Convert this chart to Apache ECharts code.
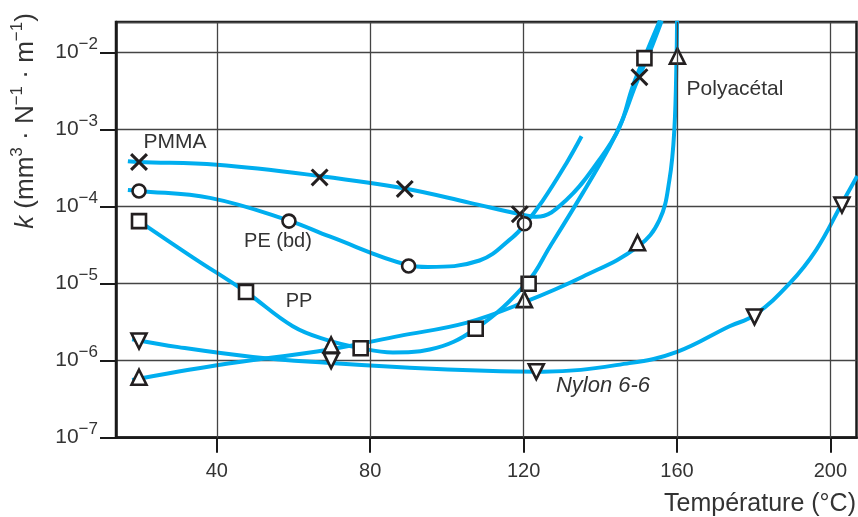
<!DOCTYPE html>
<html>
<head>
<meta charset="utf-8">
<script src="https://cdn.jsdelivr.net/npm/echarts@6/dist/echarts.min.js"></script>
<style>html,body{margin:0;padding:0;background:#fff;}#c{width:858px;height:517px;}</style>
</head>
<body>
<div id="c"></div>
<script>
// ---- data (x: °C, y: k in mm3·N-1·m-1) ----
const xTicks = [40, 80, 120, 160, 200];
const yTicks = [1e-7, 1e-6, 1e-5, 1e-4, 1e-3, 1e-2];

const pmmaCurve = [[16.8,3.9e-4],[19.7,3.8e-4],[40,3.5e-4],[66.8,2.5e-4],[89,1.72e-4],[106,1.12e-4],[119,8e-5],[123.4,7.4e-5],[131.2,1.23e-4],[139.8,4.1e-4],[145,1.08e-3],[148.4,3.6e-3],[152,1e-2],[155.5,2.6e-2]];
const pmmaPoints = [[19.7,3.8e-4],[66.8,2.4e-4],[89,1.7e-4],[119,8e-5],[150.2,4.8e-3]];

const peCurve = [[16.8,1.65e-4],[19.7,1.6e-4],[38.2,1.3e-4],[58.8,6.6e-5],[69.4,4.1e-5],[89.8,1.75e-5],[95,1.65e-5],[108.5,2e-5],[117.1,4e-5],[120.2,5.8e-5],[125,1.2e-4],[131.2,3.7e-4],[135.1,8.2e-4]];
const pePoints = [[19.7,1.6e-4],[58.8,6.5e-5],[90,1.7e-5],[120.2,6e-5]];

const ppCurve = [[19.7,6.5e-5],[33.7,2.2e-5],[47.6,7.8e-6],[59.8,2.8e-6],[68.6,1.86e-6],[77.5,1.45e-6],[85.9,1.28e-6],[95.5,1.4e-6],[107.5,2.6e-6],[121,1.05e-5],[126.8,3e-5],[135.4,1.5e-4],[142.4,6e-4],[145.8,1.35e-3],[149.2,3.8e-3],[152.8,1e-2],[156,2.6e-2]];
const ppPoints = [[19.7,6.5e-5],[47.6,7.8e-6],[77.5,1.45e-6],[107.5,2.6e-6],[121.3,1.0e-5],[151.5,8.5e-3]];

const acetalCurve = [[17.9,5.6e-7],[40,8.7e-7],[69.4,1.4e-6],[87.7,2.1e-6],[105,3.1e-6],[120,5.7e-6],[135.4,1.23e-5],[149.7,3e-5],[155.4,6.7e-5],[158,2.2e-4],[159.3,1e-3],[159.9,1e-2],[160,2.6e-2]];
const acetalPoints = [[19.7,6.1e-7],[69.8,1.6e-6],[120.2,6.2e-6],[149.7,3.4e-5],[160.1,9e-3]];

const nylonCurve = [[17.9,1.9e-6],[30,1.5e-6],[49.4,1.12e-6],[68.6,9.4e-7],[90.3,8.1e-7],[110,7.4e-7],[125,7.2e-7],[147.6,9.3e-7],[160,1.3e-6],[173.7,2.8e-6],[180.2,3.9e-6],[189.3,1.0e-5],[196.3,2.75e-5],[203,1.1e-4],[207,2.5e-4]];
const nylonPoints = [[19.7,1.8e-6],[69.8,1.0e-6],[123.3,7.2e-7],[180.2,3.7e-6],[203,1.05e-4]];

// ---- styling ----
const FONT = 'Liberation Sans, Arial, sans-serif';
const BLUE = '#00aeef';
const INK = '#231f20';
const TXT = '#333';
const CROSS = 'path://M0,1.2L1.2,0L5,3.8L8.8,0L10,1.2L6.2,5L10,8.8L8.8,10L5,6.2L1.2,10L0,8.8L3.8,5Z';

function curve(data) {
  return {type:'line', data:data, smooth:0.4, showSymbol:false, symbol:'none',
    lineStyle:{color:BLUE, width:4, cap:'butt'}, z:2, silent:true};
}
function marks(data, symbol, size, rotate) {
  const isCross = symbol === CROSS;
  return {type:'scatter', data:data, symbol:symbol, symbolSize:size, symbolRotate:rotate||0, z:4, silent:true,
    itemStyle: isCross ? {color:INK, borderWidth:0, opacity:1} : {color:'#fff', borderColor:INK, borderWidth:2.6, opacity:1}};
}

const chart = echarts.init(document.getElementById('c'), null, {renderer:'canvas'});
chart.setOption({
  animation:false,
  grid:{left:116, right:1.5, top:22, bottom:79.3, show:true, borderColor:'#1a1a1a', borderWidth:2.5},
  xAxis:{type:'value', min:13.7, max:206.8,
    axisLine:{show:true, onZero:false, lineStyle:{color:'#1a1a1a', width:2.5}},
    axisTick:{show:true, customValues:xTicks, length:15, lineStyle:{color:'#1a1a1a', width:2}},
    axisLabel:{customValues:xTicks, margin:24, fontSize:20, color:TXT, fontFamily:FONT},
    splitLine:{show:false}},
  yAxis:{type:'log', logBase:10, min:1e-7, max:0.025,
    axisLine:{show:true, lineStyle:{color:'#1a1a1a', width:2.5}},
    axisTick:{show:true, length:16, lineStyle:{color:'#1a1a1a', width:2}},
    splitLine:{show:true, lineStyle:{color:'#444', width:1.3}},
    axisLabel:{showMaxLabel:false, margin:18, color:TXT, fontFamily:FONT,
      formatter:function(v){
        const e = Math.log10(v);
        if (Math.abs(e - Math.round(e)) > 0.01) return '';
        return '{b|10}{s|−' + Math.abs(Math.round(e)) + '}';
      },
      rich:{b:{fontSize:21, lineHeight:34, fontFamily:FONT, color:TXT},
            s:{fontSize:17, lineHeight:20, verticalAlign:'top', fontFamily:FONT, color:TXT}}}},
  series:[
    {type:'scatter', data:[], z:1, silent:true,
     markLine:{silent:true, symbol:['none','none'], label:{show:false}, animation:false,
       lineStyle:{color:'#444', width:1.3, type:'solid'},
       data: xTicks.map(function(v){return {xAxis:v};})}},
    curve(pmmaCurve), curve(peCurve), curve(ppCurve), curve(acetalCurve), curve(nylonCurve),
    marks(pmmaPoints, CROSS, 18),
    marks(pePoints, 'circle', 13),
    marks(ppPoints, 'rect', 14),
    marks(acetalPoints, 'triangle', 15),
    marks(nylonPoints, 'triangle', 15, 180)
  ],
  graphic:[
    {type:'text', x:175, y:142, z:10, style:{text:'PMMA', fontSize:21, fontFamily:FONT, fill:TXT, textAlign:'center', textVerticalAlign:'middle'}},
    {type:'text', x:278, y:241, z:10, style:{text:'PE (bd)', fontSize:20, fontFamily:FONT, fill:TXT, textAlign:'center', textVerticalAlign:'middle'}},
    {type:'text', x:299, y:301, z:10, style:{text:'PP', fontSize:20, fontFamily:FONT, fill:TXT, textAlign:'center', textVerticalAlign:'middle'}},
    {type:'text', x:735, y:89, z:10, style:{text:'Polyacétal', fontSize:21, fontFamily:FONT, fill:TXT, textAlign:'center', textVerticalAlign:'middle'}},
    {type:'text', x:603, y:386, z:10, style:{text:'Nylon 6-6', fontSize:22, fontStyle:'italic', fontFamily:FONT, fill:TXT, textAlign:'center', textVerticalAlign:'middle'}},
    {type:'text', x:856, y:504, z:10, style:{text:'Température (°C)', fontSize:25, fontFamily:FONT, fill:TXT, textAlign:'right', textVerticalAlign:'middle'}},
    {type:'text', x:26, y:121, rotation:Math.PI/2, z:10,
     style:{text:'{i|k} (mm{s|3} · N{s|−1} · m{s|−1})', fontSize:26, fontFamily:FONT, fill:TXT,
       textAlign:'center', textVerticalAlign:'middle',
       rich:{i:{fontSize:26, fontStyle:'italic', fontFamily:FONT, fill:TXT, lineHeight:34},
             s:{fontSize:17, fontFamily:FONT, fill:TXT, lineHeight:19, verticalAlign:'top'}}}}
  ]
});
</script>
</body>
</html>
